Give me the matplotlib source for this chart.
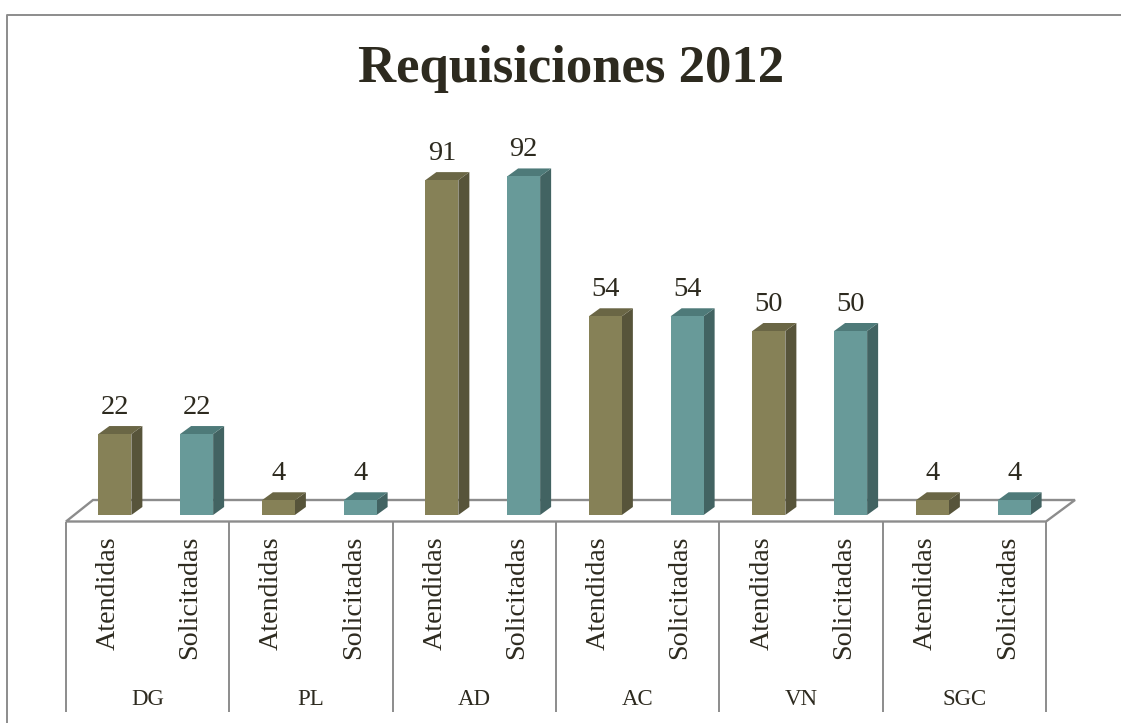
import matplotlib
matplotlib.use('Agg')
import matplotlib.pyplot as plt
from matplotlib.patches import Polygon

groups = ['DG', 'PL', 'AD', 'AC', 'VN', 'SGC']
series = ['Atendidas', 'Solicitadas']
atendidas = [22, 4, 91, 54, 50, 4]
solicitadas = [22, 4, 92, 54, 50, 4]

W, H = 1121, 723
TEXT = '#2d2a1f'
GRID = '#8c8c8c'
FRONT = ['#868157', '#689a99']
TOP = ['#6a6645', '#4e7a79']
SIDE = ['#57543a', '#426362']
PX_PER_UNIT = 3.68
SLOT = 81.75
BASE_Y = 515
LEFT = 65.5
SEP = 163.3

plt.rcParams['font.family'] = ['Liberation Serif', 'DejaVu Serif']

fig = plt.figure(figsize=(W / 100, H / 100), dpi=100)

# frame and floor are drawn in pixels on a background axes
bg = fig.add_axes([0, 0, 1, 1])
bg.set_xlim(0, W)
bg.set_ylim(H, 0)
bg.axis('off')
bg.plot([6.5, 6.5, W], [H, 14.5, 14.5], color=GRID, lw=1.4)

floor = Polygon([(66, 521.5), (93, 500), (1075, 500), (1046, 521.5)], closed=True,
                facecolor='white', edgecolor=GRID, lw=1.7, joinstyle='miter')
bg.add_patch(floor)
for i in range(len(groups) + 1):
    x = 66 + i * SEP
    bg.plot([x, x], [521.5, 712], color=GRID, lw=1.4, solid_capstyle='butt')

# data axes: one unit in x is one category slot, y is the value
ax = fig.add_axes([LEFT / W, 1 - BASE_Y / H, 12 * SLOT / W, 480 / H])
ax.set_xlim(0, 12)
ax.set_ylim(0, 480 / PX_PER_UNIT)
ax.axis('off')
ax.patch.set_alpha(0)

BAR_W = 33 / SLOT
DX = 11 / SLOT
DY = 8 / PX_PER_UNIT
OFFSET = 8.5 / SLOT

for g in range(len(groups)):
    for s, vals in enumerate([atendidas, solicitadas]):
        v = vals[g]
        x0 = 2 * g + s + 0.5 + OFFSET - BAR_W / 2
        x1 = x0 + BAR_W
        ax.add_patch(Polygon([(x1, 0), (x1 + DX, DY), (x1 + DX, v + DY), (x1, v)],
                             facecolor=SIDE[s], edgecolor='none', clip_on=False))
        ax.add_patch(Polygon([(x0, v), (x0 + DX, v + DY), (x1 + DX, v + DY), (x1, v)],
                             facecolor=TOP[s], edgecolor='none', clip_on=False))
        ax.bar(x0, v, width=BAR_W, align='edge', color=FRONT[s], clip_on=False)
        ax.annotate(str(v), (x0 + BAR_W / 2, v + DY), xytext=(0, 6), textcoords='offset pixels',
                    ha='center', va='bottom', fontsize=20.5, color=TEXT, clip_on=False)

        bg.text(LEFT + (2 * g + s + 0.5) * SLOT + 1.5, 536, series[s], rotation=90, ha='center',
                va='top', fontsize=20.2, color=TEXT)
    bg.text(66 + (g + 0.5) * SEP, 705, groups[g], ha='center', va='baseline', fontsize=16.5, color=TEXT)

bg.text(571, 82, 'Requisiciones 2012', ha='center', va='baseline', fontsize=38,
        fontweight='bold', color=TEXT)

fig.savefig('out.png', dpi=100, facecolor='white')
